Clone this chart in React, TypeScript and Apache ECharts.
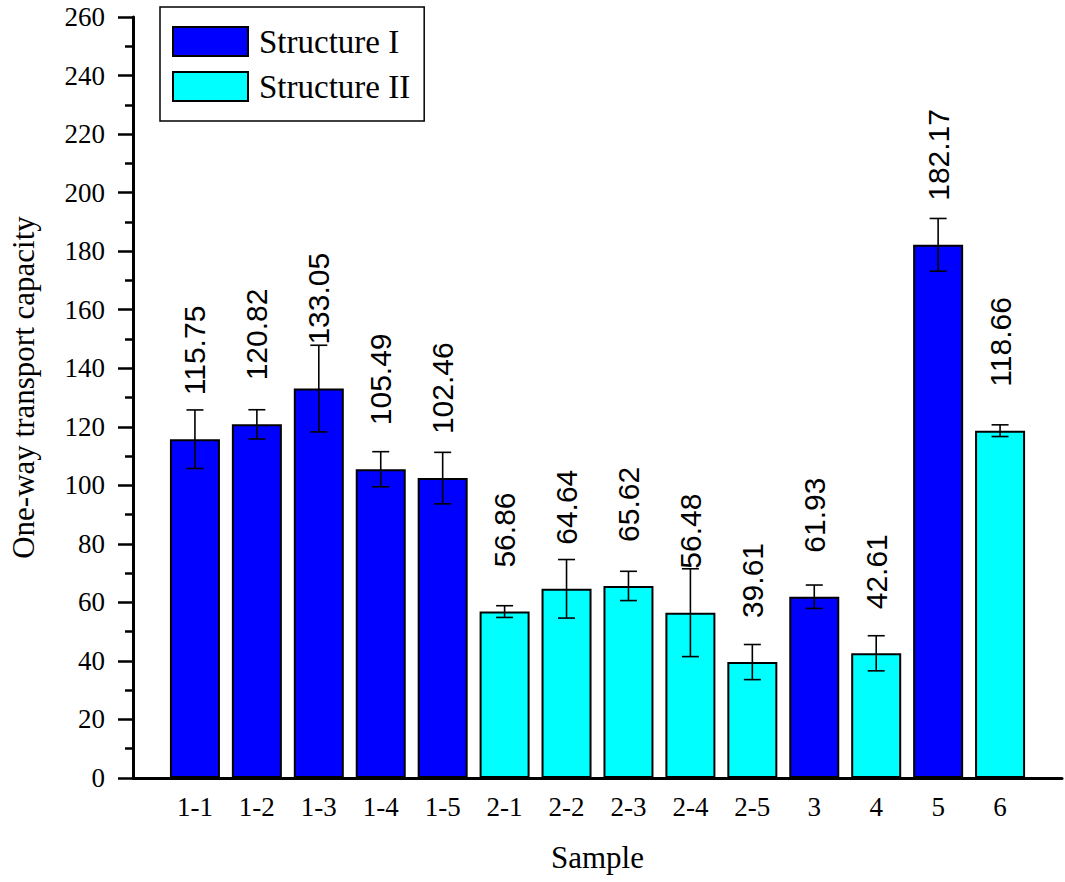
import React, { useEffect, useRef } from "react";
import * as echarts from "echarts";

const samples = ["1-1", "1-2", "1-3", "1-4", "1-5", "2-1", "2-2", "2-3", "2-4", "2-5", "3", "4", "5", "6"];
const values = [115.75, 120.82, 133.05, 105.49, 102.46, 56.86, 64.64, 65.62, 56.48, 39.61, 61.93, 42.61, 182.17, 118.66];
const errors = [10, 5, 14.8, 6, 8.8, 2, 10, 5, 15, 6, 4, 6, 9, 2];
const structure = ["I", "I", "I", "I", "I", "II", "II", "II", "II", "II", "I", "II", "I", "II"];
const yTicks = { min: 0, max: 260, interval: 20 };

export default function App() {
  const ref = useRef<HTMLDivElement>(null);
  useEffect(() => {
    const chart = echarts.init(ref.current!, null, { renderer: "svg" });
    const serif = "Liberation Serif";
    const sans = "Liberation Sans";
    const mk = (s: string) =>
      samples.map((_, i) => (structure[i] === s ? [i + 1, values[i]] : [i + 1, null]));
    const labelCfg = {
      show: true,
      position: "top",
      rotate: 90,
      align: "left",
      verticalAlign: "middle",
      distance: 44,
      fontFamily: sans,
      fontSize: 30,
      color: "#000",
      formatter: (p: any) => (p.value[1] == null ? "" : p.value[1].toFixed(2)),
    };
    chart.setOption({
      animation: false,
      grid: { left: 127, right: 2, top: 17, bottom: 104, containLabel: false },
      legend: {
        left: 160,
        top: 7,
        orient: "vertical",
        icon: "rect",
        itemWidth: 75,
        itemHeight: 29,
        itemGap: 12,
        padding: [18, 14, 18, 12],
        borderColor: "#000",
        borderWidth: 1.5,
        textStyle: { fontFamily: serif, fontSize: 33, color: "#000", padding: [0, 0, 0, 6] },
        data: ["Structure I", "Structure II"],
      },
      xAxis: {
        type: "value",
        min: 0,
        max: samples.length + 1,
        interval: 1,
        name: "Sample",
        nameLocation: "middle",
        nameGap: 64,
        nameTextStyle: { fontFamily: serif, fontSize: 31, color: "#000" },
        axisLine: { lineStyle: { color: "#000", width: 3 } },
        axisTick: { show: false },
        splitLine: { show: false },
        axisLabel: {
          fontFamily: serif,
          fontSize: 27,
          color: "#000",
          margin: 15,
          formatter: (v: number) => samples[v - 1] ?? "",
        },
      },
      yAxis: {
        type: "value",
        min: yTicks.min,
        max: yTicks.max,
        interval: yTicks.interval,
        name: "One-way transport capacity",
        nameLocation: "middle",
        nameGap: 94,
        nameTextStyle: { fontFamily: serif, fontSize: 31, color: "#000", padding: [0, 0, 0, 20] },
        axisLine: { show: true, lineStyle: { color: "#000", width: 3 } },
        axisTick: { show: true, inside: false, length: 15, lineStyle: { color: "#000", width: 2.5 } },
        minorTick: { show: true, splitNumber: 2, length: 8, lineStyle: { color: "#000", width: 2.5 } },
        splitLine: { show: false },
        axisLabel: { fontFamily: serif, fontSize: 27, color: "#000", margin: 28 },
      },
      series: [
        {
          name: "Structure I",
          type: "bar",
          barWidth: 50,
          barGap: "-100%",
          data: mk("I"),
          itemStyle: { color: "#0000FF", borderColor: "#000", borderWidth: 2 },
          label: labelCfg,
          z: 2,
        },
        {
          name: "Structure II",
          type: "bar",
          barWidth: 50,
          barGap: "-100%",
          data: mk("II"),
          itemStyle: { color: "#00FFFF", borderColor: "#000", borderWidth: 2 },
          label: labelCfg,
          z: 2,
        },
        {
          type: "custom",
          z: 5,
          data: samples.map((_, i) => [i + 1, values[i] - errors[i], values[i] + errors[i]]),
          renderItem: (params: any, api: any) => {
            const x = api.value(0);
            const lo = api.coord([x, api.value(1)]);
            const hi = api.coord([x, api.value(2)]);
            const hw = 8.5;
            const style = { stroke: "#000", lineWidth: 1.6 };
            return {
              type: "group",
              children: [
                { type: "line", shape: { x1: lo[0], y1: lo[1], x2: hi[0], y2: hi[1] }, style },
                { type: "line", shape: { x1: hi[0] - hw, y1: hi[1], x2: hi[0] + hw, y2: hi[1] }, style },
                { type: "line", shape: { x1: lo[0] - hw, y1: lo[1], x2: lo[0] + hw, y2: lo[1] }, style },
              ],
            };
          },
        },
      ],
    });
    return () => chart.dispose();
  }, []);
  return (
    <div
      ref={ref}
      style={{ position: "fixed", left: 0, top: 0, width: 1065, height: 882, background: "#fff" }}
    />
  );
}
